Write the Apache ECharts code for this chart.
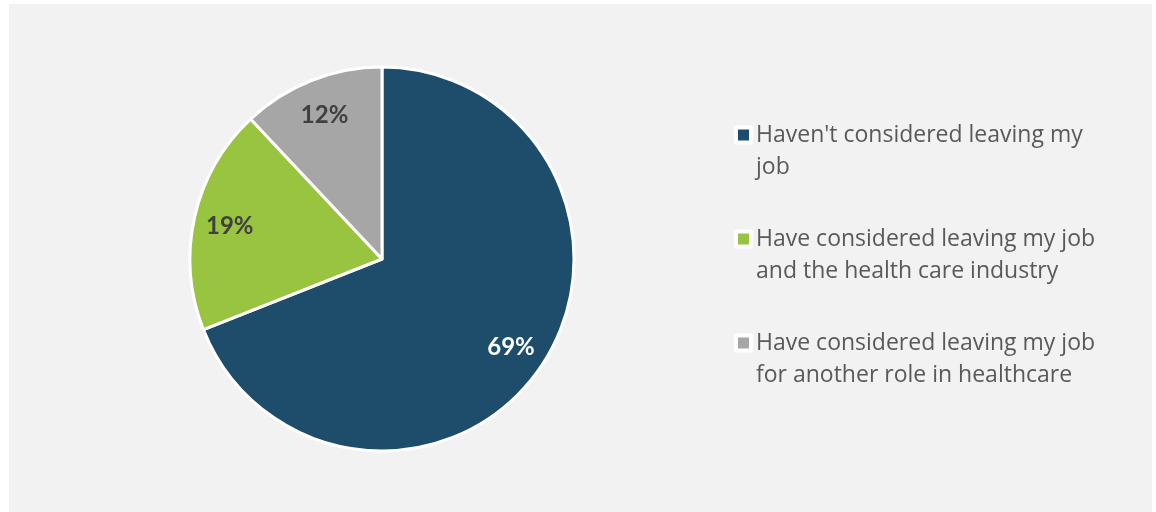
<!DOCTYPE html>
<html>
<head>
<meta charset="utf-8">
<style>
  html, body { margin: 0; padding: 0; background: #ffffff; }
  #panel { position: absolute; left: 9px; top: 4px; width: 1143px; height: 508px; background: #f2f2f2; }
  #chart { position: absolute; left: 0; top: 0; width: 1156px; height: 512px; }
</style>
<script src="https://cdn.jsdelivr.net/npm/echarts@6/dist/echarts.min.js"></script>
</head>
<body>
<div id="panel"></div>
<div id="chart"></div>
<script>
// Survey responses: share of respondents (percent)
const categories = [
  "Haven't considered leaving my job",
  "Have considered leaving my job and the health care industry",
  "Have considered leaving my job for another role in healthcare"
];
const shares = [69, 19, 12];
const sliceColors = ['#1d4d6a', '#99c43f', '#a6a6a6'];
const labelColors = ['#ffffff', '#404040', '#404040'];

const legendFont = '23px "Open Sans"';
const legendWrapWidth = 355;

// Greedy word wrap so each legend entry breaks between words
const measureCtx = document.createElement('canvas').getContext('2d');
function wrapText(text) {
  measureCtx.font = legendFont;
  const words = text.split(' ');
  const lines = [];
  let line = '';
  words.forEach(w => {
    const next = line ? line + ' ' + w : w;
    if (line && measureCtx.measureText(next).width > legendWrapWidth) {
      lines.push(line);
      line = w;
    } else {
      line = next;
    }
  });
  if (line) lines.push(line);
  return lines.join('\n');
}

const pieData = categories.map((name, i) => ({
  name,
  value: shares[i],
  itemStyle: { color: sliceColors[i] }
}));

// Transparent ring that only carries the percentage labels, so they sit
// in the outer part of each slice.
const labelData = categories.map((name, i) => ({
  name,
  value: shares[i],
  itemStyle: { color: 'rgba(0,0,0,0)', borderWidth: 0 },
  label: { color: labelColors[i] }
}));

const chart = echarts.init(document.getElementById('chart'), null, { renderer: 'canvas' });
chart.setOption({
  backgroundColor: 'transparent',
  animation: false,
  legend: {
    data: categories,
    orient: 'vertical',
    left: 734,
    top: 87,
    padding: 0,
    itemGap: 8,
    itemWidth: 15,
    itemHeight: 15,
    icon: 'rect',
    selectedMode: false,
    itemStyle: { borderColor: '#ffffff', borderWidth: 4 },
    // leading blank line keeps the marker level with the first text line
    formatter: name => '\n' + wrapText(name),
    textStyle: {
      fontFamily: 'Open Sans',
      fontSize: 23,
      color: '#595959',
      lineHeight: 32
    }
  },
  series: [
    {
      type: 'pie',
      center: [382, 259],
      radius: [0, 192],
      startAngle: 90,
      clockwise: true,
      silent: true,
      label: { show: false },
      labelLine: { show: false },
      itemStyle: { borderColor: '#ffffff', borderWidth: 3 },
      data: pieData
    },
    {
      type: 'pie',
      center: [382, 259],
      radius: [114, 192],
      startAngle: 90,
      clockwise: true,
      silent: true,
      label: {
        show: true,
        position: 'inside',
        formatter: '{c}%',
        fontFamily: 'Lato',
        fontWeight: 'bold',
        fontSize: 24,
        offset: [0, 1]
      },
      labelLine: { show: false },
      data: labelData
    }
  ]
});
</script>
</body>
</html>
